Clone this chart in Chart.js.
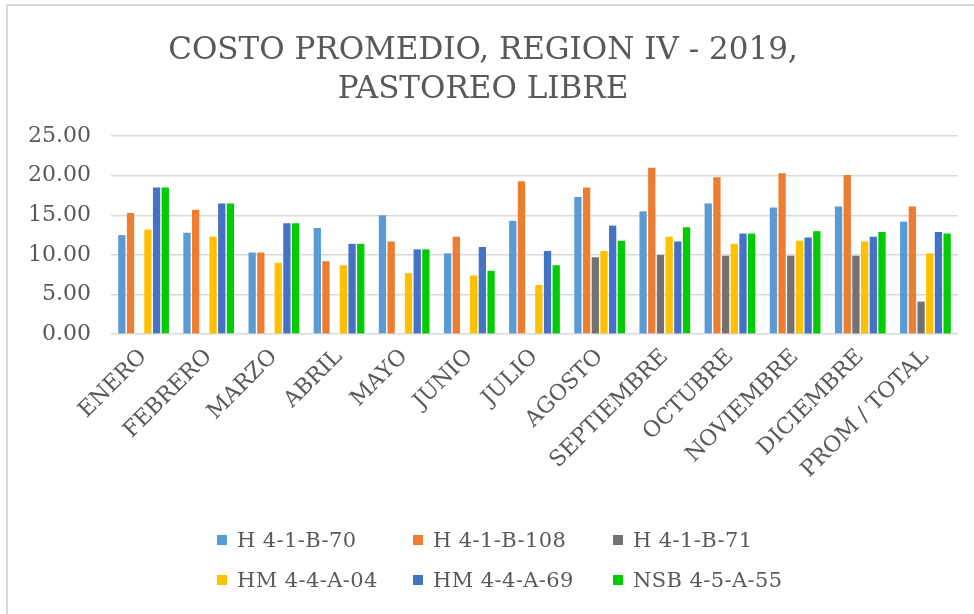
<!DOCTYPE html>
<html lang="es">
<head>
<meta charset="utf-8">
<title>Costo promedio, Region IV - 2019, pastoreo libre</title>
<script src="https://cdn.jsdelivr.net/npm/chart.js@4/dist/chart.umd.min.js"></script>
<style>
  html, body { margin: 0; padding: 0; background: #fff; overflow: hidden; }
  .wrap {
    position: absolute; left: 6px; top: 4px; width: 966px; height: 608px;
    border-left: 2px solid #d9d9d9; border-top: 2px solid #d9d9d9;
  }
  .legend { position: absolute; left: 217px; top: 528px; width: 600px;
    display: grid; grid-template-columns: 196px 200px 200px; row-gap: 16px;
    font-family: 'DejaVu Serif', 'Liberation Serif', serif; font-size: 21px;
    letter-spacing: 0.4px; color: #595959; }
  .legend .item { display: flex; align-items: center; height: 24px; white-space: nowrap; }
  .legend .sw { width: 10px; height: 10px; margin-right: 10px; flex: none; }
</style>
</head>
<body>
<div class="wrap"><canvas id="chart"></canvas></div>
<div class="legend" id="legend"></div>
<script>
// costo promedio por mes y por rebaño
const MESES = ["ENERO", "FEBRERO", "MARZO", "ABRIL", "MAYO", "JUNIO", "JULIO",
  "AGOSTO", "SEPTIEMBRE", "OCTUBRE", "NOVIEMBRE", "DICIEMBRE", "PROM / TOTAL"];

const H_4_1_B_70  = [12.5, 12.8, 10.3, 13.4, 15.0, 10.2, 14.3, 17.3, 15.5, 16.5, 16.0, 16.1, 14.2];
const H_4_1_B_108 = [15.3, 15.7, 10.3, 9.2, 11.7, 12.3, 19.3, 18.5, 21.0, 19.8, 20.3, 20.1, 16.1];
const H_4_1_B_71  = [null, null, null, null, null, null, null, 9.7, 10.0, 9.9, 9.9, 9.9, 4.1];
const HM_4_4_A_04 = [13.2, 12.3, 9.0, 8.7, 7.7, 7.4, 6.2, 10.5, 12.3, 11.4, 11.8, 11.7, 10.2];
const HM_4_4_A_69 = [18.5, 16.5, 14.0, 11.4, 10.7, 11.0, 10.5, 13.7, 11.7, 12.7, 12.2, 12.3, 12.9];
const NSB_4_5_A_55 = [18.5, 16.5, 14.0, 11.4, 10.7, 8.0, 8.7, 11.8, 13.5, 12.7, 13.0, 12.9, 12.7];

const SERIES_NAMES = ["H 4-1-B-70", "H 4-1-B-108", "H 4-1-B-71",
  "HM 4-4-A-04", "HM 4-4-A-69", "NSB 4-5-A-55"];
const SERIES_COLORS = ["#5B9BD5", "#ED7D31", "#767171", "#FFC000", "#4472C4", "#00CC00"];
const Y_TICKS = [0, 5, 10, 15, 20, 25];

const FONT = "'DejaVu Serif', 'Liberation Serif', serif";
const GRAY = "#595959";

const valores = [H_4_1_B_70, H_4_1_B_108, H_4_1_B_71, HM_4_4_A_04, HM_4_4_A_69, NSB_4_5_A_55];

const datasets = valores.map((v, i) => ({
  label: SERIES_NAMES[i],
  data: v,
  backgroundColor: SERIES_COLORS[i],
  borderWidth: 0,
  categoryPercentage: 0.8,
  barPercentage: 0.84,
}));

// leyenda en 3 columnas, como en el original
const leg = document.getElementById("legend");
SERIES_NAMES.forEach((name, i) => {
  const el = document.createElement("div");
  el.className = "item";
  el.innerHTML = `<span class="sw" style="background:${SERIES_COLORS[i]}"></span>${name}`;
  leg.appendChild(el);
});

new Chart(document.getElementById("chart"), {
  type: "bar",
  data: { labels: MESES, datasets },
  options: {
    responsive: true, maintainAspectRatio: false, animation: false,
    layout: { padding: { left: 0, right: 16, top: 8, bottom: 129 } },
    plugins: {
      title: {
        display: true,
        text: ["COSTO PROMEDIO, REGION IV - 2019,", "PASTOREO LIBRE"],
        color: GRAY,
        font: { family: FONT, size: 31, weight: "normal", lineHeight: 1.26 },
        padding: { top: 17, bottom: 27 },
      },
      legend: { display: false },
      tooltip: { enabled: false },
    },
    scales: {
      x: {
        grid: { display: false },
        border: { display: false },
        ticks: {
          color: GRAY, font: { family: FONT, size: 22 },
          maxRotation: 45, minRotation: 45, autoSkip: false, padding: 2,
        },
      },
      y: {
        min: 0, max: 25,
        afterBuildTicks: (axis) => { axis.ticks = Y_TICKS.map((v) => ({ value: v })); },
        grid: { color: "#d9d9d9", lineWidth: 1.5, drawTicks: false },
        border: { display: false },
        ticks: {
          color: GRAY, font: { family: FONT, size: 22 }, padding: 20,
          callback: (v) => Number(v).toFixed(2),
        },
      },
    },
  },
});
</script>
</body>
</html>
